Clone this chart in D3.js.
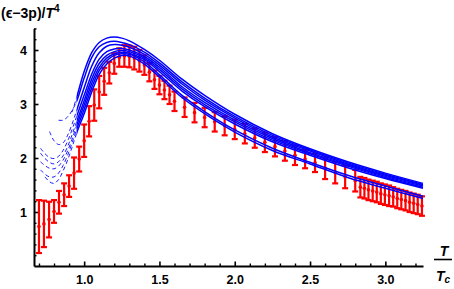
<!DOCTYPE html>
<html>
<head>
<meta charset="utf-8">
<script src="https://cdn.jsdelivr.net/npm/d3@7"></script>
<style>
  body { margin: 0; background: #fff; }
  svg { display: block; font-family: "Liberation Sans", Arial, sans-serif; }
  .axis text { font-weight: bold; font-size: 12.5px; fill: #000; }
  .axis path, .axis line { stroke: #000; }
</style>
</head>
<body>
<svg id="chart" width="454" height="289"></svg>
<script>
// lattice points (red): T/Tc, value, error
const latticeT = [0.700, 0.733, 0.767, 0.800, 0.833, 0.867, 0.900, 0.933, 0.967, 1.000,
  1.033, 1.067, 1.100, 1.133, 1.167, 1.200, 1.233, 1.267, 1.300, 1.333,
  1.367, 1.400, 1.433, 1.467, 1.500, 1.533, 1.567,
  1.600, 1.667, 1.733, 1.800, 1.867, 1.933, 2.000, 2.067, 2.133, 2.200,
  2.267, 2.333, 2.400, 2.467, 2.533, 2.600, 2.667, 2.733, 2.800,
  2.834, 2.861, 2.888, 2.916, 2.943, 2.970, 2.997, 3.025, 3.052, 3.079,
  3.106, 3.134, 3.161, 3.188, 3.215, 3.243];
const latticeVal = [0.73, 0.78, 0.86, 1.01, 1.18, 1.32, 1.48, 1.72, 1.98, 2.32,
  2.68, 2.98, 3.22, 3.42, 3.58, 3.75, 3.86, 3.89, 3.88, 3.85,
  3.80, 3.72, 3.59, 3.45, 3.35, 3.26, 3.17,
  3.05, 2.94, 2.84, 2.75, 2.67, 2.60, 2.53, 2.45, 2.37, 2.29,
  2.21, 2.13, 2.05, 1.98, 1.91, 1.81, 1.73, 1.65, 1.58,
  1.46, 1.44, 1.41, 1.39, 1.37, 1.34, 1.32, 1.30, 1.28, 1.25,
  1.23, 1.21, 1.18, 1.16, 1.14, 1.11];
const latticeErr = [0.49, 0.43, 0.33, 0.21, 0.21, 0.21, 0.20, 0.29, 0.23, 0.30,
  0.28, 0.29, 0.30, 0.25, 0.20, 0.19, 0.17, 0.20, 0.20, 0.21,
  0.20, 0.18, 0.17, 0.17, 0.17, 0.17, 0.17,
  0.18, 0.18, 0.18, 0.18, 0.18, 0.18, 0.18, 0.18, 0.18, 0.18,
  0.18, 0.18, 0.18, 0.17, 0.17, 0.20, 0.20, 0.21, 0.20,
  0.19, 0.19, 0.19, 0.19, 0.19, 0.19, 0.19, 0.19, 0.18, 0.18,
  0.18, 0.18, 0.18, 0.18, 0.18, 0.18];

// model curves (blue), sampled on a common T grid; null = not drawn
const tGrid = [0.71, 0.74, 0.77, 0.80, 0.83, 0.86, 0.89, 0.92, 0.95, 1.00,
  1.05, 1.10, 1.15, 1.20, 1.25, 1.30, 1.40, 1.50, 1.65, 1.80,
  2.00, 2.25, 2.50, 2.75, 3.00, 3.25];
const curve1 = [null, 1.65, 1.56, 1.53, 1.60, 1.76, 1.96, 2.20, 2.46, 2.82,
  3.22, 3.55, 3.74, 3.85, 3.90, 3.89, 3.74, 3.50, 3.12, 2.82,
  2.48, 2.14, 1.89, 1.64, 1.44, 1.25];
const curve2 = [1.78, 1.70, 1.65, 1.65, 1.72, 1.86, 2.05, 2.28, 2.53, 2.90,
  3.30, 3.62, 3.80, 3.90, 3.93, 3.92, 3.78, 3.54, 3.16, 2.86,
  2.52, 2.18, 1.92, 1.68, 1.48, 1.29];
const curve3 = [1.93, 1.86, 1.81, 1.80, 1.85, 1.96, 2.13, 2.35, 2.60, 2.98,
  3.38, 3.68, 3.85, 3.93, 3.96, 3.94, 3.82, 3.60, 3.24, 2.95,
  2.63, 2.30, 2.05, 1.82, 1.62, 1.44];
const curve4 = [2.09, 1.99, 1.92, 1.89, 1.93, 2.04, 2.21, 2.43, 2.67, 3.06,
  3.46, 3.75, 3.90, 3.97, 3.99, 3.97, 3.85, 3.64, 3.28, 2.99,
  2.67, 2.33, 2.08, 1.85, 1.64, 1.46];
const curve5 = [2.18, 2.08, 2.01, 1.99, 2.03, 2.14, 2.31, 2.53, 2.77, 3.16,
  3.55, 3.83, 3.97, 4.02, 4.03, 4.00, 3.88, 3.68, 3.32, 3.03,
  2.70, 2.36, 2.10, 1.87, 1.66, 1.48];
const curve6 = [null, null, 2.49, 2.32, 2.25, 2.28, 2.42, 2.63, 2.88, 3.30,
  3.70, 3.95, 4.07, 4.10, 4.09, 4.05, 3.92, 3.72, 3.37, 3.07,
  2.74, 2.39, 2.13, 1.89, 1.68, 1.50];
const curve7 = [null, null, null, null, 2.70, 2.70, 2.76, 2.88, 3.05, 3.48,
  3.86, 4.06, 4.14, 4.16, 4.14, 4.10, 3.96, 3.76, 3.41, 3.11,
  2.77, 2.42, 2.15, 1.91, 1.70, 1.51];
const curve8 = [null, null, null, null, null, null, null, 2.85, 3.12, 3.60,
  3.95, 4.14, 4.22, 4.24, 4.22, 4.17, 4.01, 3.81, 3.46, 3.16,
  2.81, 2.45, 2.17, 1.93, 1.72, 1.53];
const curves = [curve1, curve2, curve3, curve4, curve5, curve6, curve7, curve8];
const dashedBelow = 0.95;

const xMajor = [1.0, 1.5, 2.0, 2.5, 3.0];
const yMajor = [1, 2, 3, 4];

const svg = d3.select('#chart');
const x = d3.scaleLinear().domain([0.667, 3.25]).range([34, 423]);
const y = d3.scaleLinear().domain([0, 4.4]).range([266, 28.4]);

// clip regions for dashed / solid parts of the curves
const defs = svg.append('defs');
defs.append('clipPath').attr('id', 'clip-dash')
  .append('rect').attr('x', 0).attr('y', 0)
  .attr('width', x(dashedBelow)).attr('height', 289);
defs.append('clipPath').attr('id', 'clip-solid')
  .append('rect').attr('x', x(dashedBelow)).attr('y', 0)
  .attr('width', 454 - x(dashedBelow)).attr('height', 289);

// axes
const xMinor = d3.range(7, 33).map(d => d / 10).filter(d => !xMajor.includes(d));
const yMinor = d3.range(1, 23).map(d => d / 5).filter(d => !yMajor.includes(d));

svg.append('g').attr('class', 'axis')
  .attr('transform', `translate(0,${y(0)})`)
  .call(d3.axisBottom(x).tickValues(xMinor).tickSize(-2.5).tickSizeOuter(0).tickFormat(''))
  .call(g => g.selectAll('line').attr('stroke-width', 1.4))
  .call(g => g.select('.domain').attr('stroke-width', 2));
svg.append('g').attr('class', 'axis')
  .attr('transform', `translate(0,${y(0)})`)
  .call(d3.axisBottom(x).tickValues(xMajor).tickSize(-4.5).tickSizeOuter(0)
    .tickPadding(9).tickFormat(d3.format('.1f')))
  .call(g => g.selectAll('line').attr('stroke-width', 1.6))
  .call(g => g.select('.domain').remove());

svg.append('g').attr('class', 'axis')
  .attr('transform', `translate(${x.range()[0]},0)`)
  .call(d3.axisLeft(y).tickValues(yMinor).tickSize(-2.5).tickSizeOuter(0).tickFormat(''))
  .call(g => g.selectAll('line').attr('stroke-width', 1.4))
  .call(g => g.select('.domain').attr('stroke-width', 2));
svg.append('g').attr('class', 'axis')
  .attr('transform', `translate(${x.range()[0]},0)`)
  .call(d3.axisLeft(y).tickValues(yMajor).tickSize(-4.5).tickSizeOuter(0)
    .tickPadding(7).tickFormat(d3.format('d')))
  .call(g => g.selectAll('line').attr('stroke-width', 1.6))
  .call(g => g.select('.domain').remove());

// lattice error bars
const pts = latticeT.map((t, i) => ({ t, v: latticeVal[i], e: latticeErr[i] }));
const bars = svg.append('g').attr('stroke', '#ff0000').attr('stroke-width', 2.2);
bars.selectAll('.bar').data(pts).join('line')
  .attr('x1', d => x(d.t)).attr('x2', d => x(d.t))
  .attr('y1', d => y(d.v - d.e)).attr('y2', d => y(d.v + d.e));
bars.selectAll('.capTop').data(pts).join('line')
  .attr('x1', d => x(d.t) - 3).attr('x2', d => x(d.t) + 3)
  .attr('y1', d => y(d.v + d.e)).attr('y2', d => y(d.v + d.e));
bars.selectAll('.capBot').data(pts).join('line')
  .attr('x1', d => x(d.t) - 3).attr('x2', d => x(d.t) + 3)
  .attr('y1', d => y(d.v - d.e)).attr('y2', d => y(d.v - d.e));
svg.append('g').attr('fill', '#ff0000')
  .selectAll('circle').data(pts).join('circle')
  .attr('cx', d => x(d.t)).attr('cy', d => y(d.v)).attr('r', 1.8);

// model curves
const line = d3.line()
  .defined(d => d[1] !== null)
  .x(d => x(d[0])).y(d => y(d[1]))
  .curve(d3.curveCatmullRom);
const curveData = curves.map(c => tGrid.map((t, i) => [t, c[i]]));

svg.append('g').attr('clip-path', 'url(#clip-dash)')
  .selectAll('path').data(curveData).join('path')
  .attr('d', line).attr('fill', 'none')
  .attr('stroke', '#0000ff').attr('stroke-width', 0.9)
  .attr('stroke-dasharray', '4,3');
svg.append('g').attr('clip-path', 'url(#clip-solid)')
  .selectAll('path').data(curveData).join('path')
  .attr('d', line).attr('fill', 'none')
  .attr('stroke', '#0000ff').attr('stroke-width', 1.5);

// axis labels
const yLab = svg.append('text').attr('x', 1).attr('y', 18)
  .attr('font-weight', 'bold').attr('font-size', 14);
yLab.append('tspan').text('(ϵ−3p)/');
yLab.append('tspan').attr('font-style', 'italic').text('T');
yLab.append('tspan').attr('font-size', 10).attr('dy', -6).text('4');

const xl = svg.append('g').attr('font-weight', 'bold').attr('font-size', 14)
  .attr('font-style', 'italic').attr('text-anchor', 'middle');
xl.append('text').attr('x', 444).attr('y', 256).text('T');
xl.append('line').attr('x1', 434).attr('x2', 452).attr('y1', 259.5).attr('y2', 259.5)
  .attr('stroke', '#000').attr('stroke-width', 1.6);
const tc = xl.append('text').attr('x', 443).attr('y', 281);
tc.append('tspan').text('T');
tc.append('tspan').attr('font-size', 10).attr('dy', 2).text('c');
</script>
</body>
</html>
